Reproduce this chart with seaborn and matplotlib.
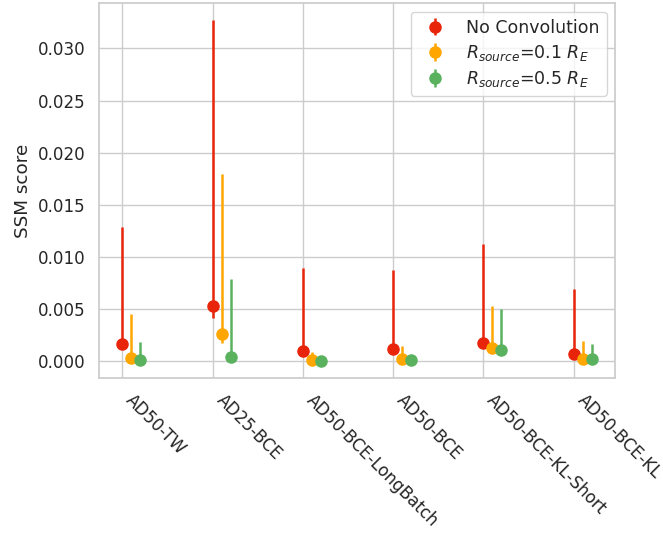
import numpy as np
import seaborn as sns
from matplotlib import pyplot as plt


MODELS = ["AD50-TW", "AD25-BCE", "AD50-BCE-LongBatch", "AD50-BCE",
          "AD50-BCE-KL-Short", "AD50-BCE-KL"]

LABELS = ["No Convolution", r"$R_{source}$=0.1 $R_E$", r"$R_{source}$=0.5 $R_E$"]

# SSM score (central value) and the low / high ends of each error bar
no_conv = [0.0016, 0.0053, 0.0010, 0.00115, 0.0017, 0.00067]
no_conv_low = [0.0012, 0.0041, 0.0007, 0.0008, 0.0013, 0.0004]
no_conv_high = [0.0129, 0.0327, 0.0089, 0.0087, 0.0112, 0.0069]

r01 = [0.00026, 0.00256, 0.0001, 0.0002, 0.00125, 0.00023]
r01_low = [0.0001, 0.0017, 0.00005, 0.0001, 0.0009, 0.0001]
r01_high = [0.0045, 0.0180, 0.0009, 0.0015, 0.0053, 0.0019]

r05 = [0.00012, 0.0004, 0.00002, 0.0001, 0.0011, 0.0002]
r05_low = [0.00005, 0.0002, 0.0, 0.0, 0.0008, 0.0001]
r05_high = [0.0018, 0.0079, 0.0001, 0.0001, 0.0050, 0.0016]

COLORS = ["#e8250a", "#ffa600", "#5ab25f"]

if __name__ == "__main__":
    sns.set_theme(style="whitegrid", context="notebook", font_scale=1.1)

    fig = plt.figure(figsize=(6.63, 5.38), dpi=100)
    ax = fig.add_axes([0.149, 0.297, 0.779, 0.697])

    series = [(no_conv, no_conv_low, no_conv_high),
              (r01, r01_low, r01_high),
              (r05, r05_low, r05_high)]

    x = np.arange(len(MODELS))
    for i, (val, low, high) in enumerate(series):
        val = np.array(val)
        yerr = [val - np.array(low), np.array(high) - val]
        ax.errorbar(x + 0.1 * i, val, yerr=yerr, fmt="o", color=COLORS[i],
                    markersize=8, elinewidth=1.8, label=LABELS[i])

    ax.set_xticks(x)
    ax.set_xticklabels(MODELS, rotation=-45, ha="left")
    ax.set_ylabel("SSM score")
    ax.legend(loc="upper right", fontsize=12.5, labelspacing=0.35)

    plt.savefig("out.png", dpi=100)
